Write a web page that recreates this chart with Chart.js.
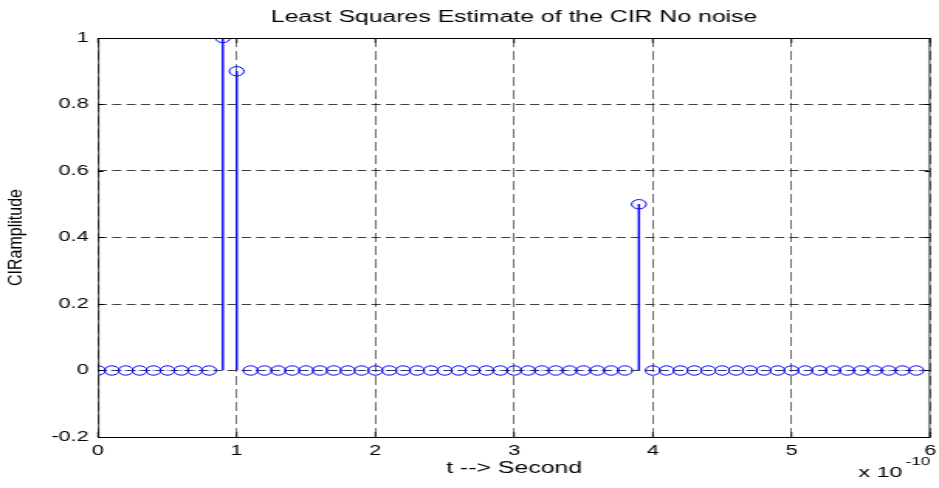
<!DOCTYPE html>
<html>
<head>
<meta charset="utf-8">
<script src="https://cdn.jsdelivr.net/npm/chart.js@4.4.1/dist/chart.umd.min.js"></script>
<style>
  html, body { margin: 0; padding: 0; background: #fff; overflow: hidden; }
  /* the original figure was saved stretched sideways; draw narrow, then widen */
  #wrap { width: 606px; height: 488px; transform: scaleX(1.5495); transform-origin: 0 0; }
</style>
</head>
<body>
<div id="wrap"><canvas id="myChart" width="606" height="488"></canvas></div>
<script>
// sample times, in units of 1e-10 s
const times = [
    0.0, 0.1, 0.2, 0.3, 0.4, 0.5, 0.6, 0.7, 0.8, 0.9,
    1.0, 1.1, 1.2, 1.3, 1.4, 1.5, 1.6, 1.7, 1.8, 1.9,
    2.0, 2.1, 2.2, 2.3, 2.4, 2.5, 2.6, 2.7, 2.8, 2.9,
    3.0, 3.1, 3.2, 3.3, 3.4, 3.5, 3.6, 3.7, 3.8, 3.9,
    4.0, 4.1, 4.2, 4.3, 4.4, 4.5, 4.6, 4.7, 4.8, 4.9,
    5.0, 5.1, 5.2, 5.3, 5.4, 5.5, 5.6, 5.7, 5.8, 5.9
];
// estimated CIR amplitude
const amplitude = [
    0, 0, 0, 0, 0, 0, 0, 0, 0, 1.0,
    0.9, 0, 0, 0, 0, 0, 0, 0, 0, 0,
    0, 0, 0, 0, 0, 0, 0, 0, 0, 0,
    0, 0, 0, 0, 0, 0, 0, 0, 0, 0.5,
    0, 0, 0, 0, 0, 0, 0, 0, 0, 0,
    0, 0, 0, 0, 0, 0, 0, 0, 0, 0
];
const xTicks = [0, 1, 2, 3, 4, 5, 6];
const yTicks = [-0.2, 0, 0.2, 0.4, 0.6, 0.8, 1];

const FONT = '"Liberation Sans", Arial, sans-serif';

const points = times.map((t, i) => ({x: t, y: amplitude[i]}));

// box round the axes, inner tick marks, y label and the exponent
const framePlugin = {
    id: 'frame',
    afterDraw(chart) {
        const a = chart.chartArea;
        const ctx = chart.ctx;
        const xs = chart.scales.x, ys = chart.scales.y;
        ctx.save();
        ctx.strokeStyle = '#000';
        // horizontal edges
        ctx.lineWidth = 1;
        ctx.beginPath();
        ctx.moveTo(a.left, a.top + 0.5); ctx.lineTo(a.right, a.top + 0.5);
        ctx.moveTo(a.left, a.bottom + 0.5); ctx.lineTo(a.right, a.bottom + 0.5);
        yTicks.forEach(v => {
            const py = Math.round(ys.getPixelForValue(v)) + 0.5;
            ctx.moveTo(a.left, py); ctx.lineTo(a.left + 3.5, py);
            ctx.moveTo(a.right, py); ctx.lineTo(a.right - 3.5, py);
        });
        ctx.stroke();
        // vertical edges get widened by the stretch, so keep them thin here
        ctx.lineWidth = 0.8;
        ctx.beginPath();
        ctx.moveTo(a.left + 0.4, a.top); ctx.lineTo(a.left + 0.4, a.bottom + 1);
        ctx.moveTo(a.right - 0.4, a.top); ctx.lineTo(a.right - 0.4, a.bottom + 1);
        xTicks.forEach(v => {
            const px = xs.getPixelForValue(v);
            ctx.moveTo(px, a.bottom); ctx.lineTo(px, a.bottom - 5);
            ctx.moveTo(px, a.top); ctx.lineTo(px, a.top + 5);
        });
        ctx.stroke();

        ctx.fillStyle = '#000';
        ctx.textBaseline = 'alphabetic';
        ctx.textAlign = 'left';
        ctx.font = '15px ' + FONT;
        ctx.fillText('x 10', 554, 477);
        ctx.font = '11px ' + FONT;
        ctx.fillText('-10', 584.5, 465);

        ctx.translate(11, (a.top + a.bottom) / 2);
        ctx.scale(0.75, 1);
        ctx.rotate(-Math.PI / 2);
        ctx.textAlign = 'center';
        ctx.textBaseline = 'middle';
        ctx.font = '16px ' + FONT;
        ctx.fillText('CIRamplitude', 0, 0);
        ctx.restore();
    }
};

const ctx = document.getElementById('myChart').getContext('2d');
const myChart = new Chart(ctx, {
    type: 'bar',
    data: {
        datasets: [
            {
                type: 'bar',
                data: points,
                backgroundColor: '#0000ff',
                borderWidth: 0,
                barThickness: 0.75,
                order: 2
            },
            {
                type: 'scatter',
                data: points,
                pointStyle: 'circle',
                pointRadius: 4.7,
                pointBorderWidth: 1,
                pointBorderColor: '#0000ff',
                pointBackgroundColor: 'rgba(0,0,0,0)',
                order: 1
            }
        ]
    },
    plugins: [framePlugin],
    options: {
        responsive: false,
        animation: false,
        layout: {
            padding: {left: 0, right: 3.9, top: 0, bottom: 0}
        },
        plugins: {
            legend: {display: false},
            tooltip: {enabled: false},
            title: {
                display: true,
                fullSize: false,
                text: 'Least Squares Estimate of the CIR No noise',
                color: '#000',
                font: {family: FONT, size: 16, weight: 'normal'},
                padding: {top: 8.4, bottom: 10.4}
            }
        },
        scales: {
            x: {
                type: 'linear',
                offset: false,
                min: 0,
                max: 6,
                afterBuildTicks: s => { s.ticks = xTicks.map(v => ({value: v})); },
                ticks: {
                    color: '#000',
                    font: {family: FONT, size: 14},
                    padding: 6,
                    maxRotation: 0
                },
                grid: {
                    offset: false,
                    color: 'rgba(0,0,0,0.75)',
                    lineWidth: 0.75,
                    drawTicks: false
                },
                border: {display: false, dash: [9, 4]},
                title: {
                    display: true,
                    text: 't --> Second',
                    color: '#000',
                    font: {family: FONT, size: 16},
                    padding: {top: 0, bottom: 10}
                },
                afterFit: s => {
                    s.height = 51;
                    s.paddingLeft = 0;
                    s.paddingRight = 0;
                }
            },
            y: {
                min: -0.2,
                max: 1,
                afterBuildTicks: s => { s.ticks = yTicks.map(v => ({value: v})); },
                ticks: {
                    color: '#000',
                    font: {family: FONT, size: 14},
                    padding: 6,
                    callback: v => String(Number(v.toFixed(1)))
                },
                grid: {
                    color: 'rgba(0,0,0,0.75)',
                    drawTicks: false
                },
                border: {display: false, dash: [6, 3.3]},
                afterFit: s => { s.width = 63.25; }
            }
        }
    }
});
</script>
</body>
</html>
